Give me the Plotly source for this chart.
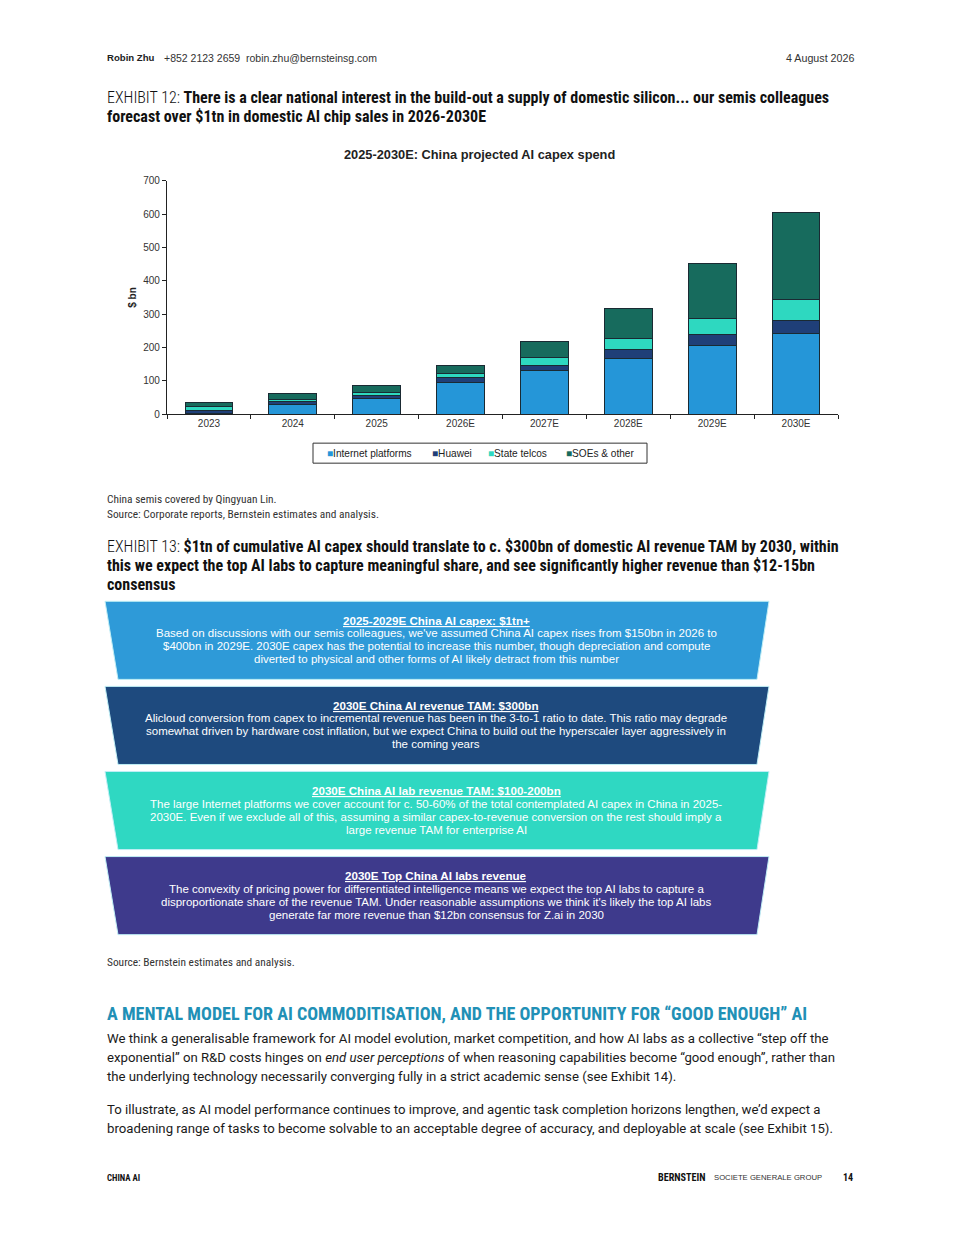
import plotly.graph_objects as go

PAGE_W, PAGE_H = 960, 1242
OFF = 8  # default body margin of the html page
W, H = PAGE_W - 2 * OFF, PAGE_H - 2 * OFF

# ---------------- data ----------------
categories = ["2023", "2024", "2025", "2026E", "2027E", "2028E", "2029E", "2030E"]
internet_platforms = [3, 28, 47, 95, 132, 168, 205, 241]
huawei = [7, 10, 8, 15, 15, 25, 33, 41]
state_telcos = [12, 7, 9, 12, 22, 33, 49, 63]
soes_other = [12, 18, 22, 25, 49, 92, 166, 260]

series_names = ["Internet platforms", "Huawei", "State telcos", "SOEs & other"]
series_values = [internet_platforms, huawei, state_telcos, soes_other]
series_colors = ["#2596d8", "#1f3f78", "#2ed8c0", "#176b5d"]

y_ticks = [0, 100, 200, 300, 400, 500, 600, 700]

# mapping from target page pixel to figure paper coordinates
SX, AX = 1.0, 8.0
SY, AY = 0.990, 13.3


def X(px):
    return ((px - AX) / SX) / W


def Y(py):
    return 1 - ((py - AY) / SY) / H


CH = "Liberation Sans, Arial, sans-serif"
BODY = "Roboto, Liberation Sans, sans-serif"
COND = "Roboto Condensed, Liberation Sans Narrow, DejaVu Sans Condensed, Roboto, sans-serif"

fig = go.Figure()
for name, vals, col in zip(series_names, series_values, series_colors):
    fig.add_trace(go.Bar(
        x=categories, y=vals, name=name,
        marker=dict(color=col, line=dict(color="#1a2a33", width=1)),
    ))

fig.update_layout(
    width=W, height=H,
    margin=dict(l=0, r=0, t=0, b=0),
    paper_bgcolor="white", plot_bgcolor="white",
    barmode="stack", bargap=0.43,
    showlegend=False,
    xaxis=dict(
        domain=[X(167), X(838)], anchor="y",
        showline=True, linecolor="#222", linewidth=1.2,
        ticks="outside", ticklen=4, tickcolor="#222", tickson="boundaries",
        tickfont=dict(family=CH, size=10, color="#333"),
        showgrid=False, zeroline=False,
    ),
    yaxis=dict(
        domain=[Y(413), Y(180)], anchor="x",
        range=[0, 700], tickvals=y_ticks,
        showline=True, linecolor="#222", linewidth=1.2,
        ticks="outside", ticklen=4, tickcolor="#222",
        tickfont=dict(family=CH, size=10, color="#333"),
        showgrid=False, zeroline=False,
        title=dict(text="<b>$ bn</b>", font=dict(family=CH, size=10, color="#222"), standoff=4),
    ),
    font=dict(family=CH),
)

ann = []
shapes = []


def text(x, y, s, size=10, color="#222", family=BODY, xanchor="left", bold=False):
    if bold:
        s = "<b>" + s + "</b>"
    ann.append(dict(x=X(x), y=Y(y), xref="paper", yref="paper", text=s, showarrow=False,
                    xanchor=xanchor, yanchor="middle",
                    font=dict(size=size, color=color, family=family)))


# header
text(105, 57, "<b>Robin Zhu</b>", size=9.6, family=CH)
text(162, 57, "+852 2123 2659  robin.zhu@bernsteinsg.com", size=10.5, family=CH, color="#333")
text(856, 57, "4 August 2026", size=10.7, family=CH, color="#333", xanchor="right")

# exhibit 12 title
TS = 16
text(105, 97, "<span style='font-weight:300'>EXHIBIT 12: </span><b>There is a clear national interest in the build-out a supply of domestic silicon... our semis colleagues</b>",
     size=TS, family=COND, color="#111")
text(105, 116, "<b>forecast over $1tn in domestic AI chip sales in 2026-2030E</b>", size=TS, family=COND, color="#111")

# chart title
text(479, 154, "2025-2030E: China projected AI capex spend", size=12.8, family=CH, bold=True, xanchor="center")

# manual legend box
shapes.append(dict(type="rect", xref="paper", yref="paper", x0=X(313), x1=X(647), y0=Y(462), y1=Y(442),
                   line=dict(color="#333", width=1), fillcolor="white"))
leg_x = [325, 430, 486, 564]
for lx, name, col in zip(leg_x, series_names, series_colors):
    text(lx, 452, "<span style='color:%s'>■</span>%s" % (col, name), size=10.1, family=CH, color="#222")

# sources
text(105, 498, "China semis covered by Qingyuan Lin.", size=11.4, family=COND, color="#333")
text(105, 513, "Source: Corporate reports, Bernstein estimates and analysis.", size=11.4, family=COND, color="#333")

# exhibit 13 title
text(105, 545, "<span style='font-weight:300'>EXHIBIT 13: </span><b>$1tn of cumulative AI capex should translate to c. $300bn of domestic AI revenue TAM by 2030, within</b>",
     size=TS, family=COND, color="#111")
text(105, 564, "<b>this we expect the top AI labs to capture meaningful share, and see significantly higher revenue than $12-15bn</b>",
     size=TS, family=COND, color="#111")
text(105, 583, "<b>consensus</b>", size=TS, family=COND, color="#111")

# funnel boxes
box_colors = ["#2e9ad8", "#1e4a7e", "#2fd8c2", "#3e3a8c"]
box_tops = [600, 685, 770, 855]
box_h = 78
box_titles = [
    "2025-2029E China AI capex: $1tn+",
    "2030E China AI revenue TAM: $300bn",
    "2030E China AI lab revenue TAM: $100-200bn",
    "2030E Top China AI labs revenue",
]
box_lines = [
    ["Based on discussions with our semis colleagues, we've assumed China AI capex rises from $150bn in 2026 to",
     "$400bn in 2029E. 2030E capex has the potential to increase this number, though depreciation and compute",
     "diverted to physical and other forms of AI likely detract from this number"],
    ["Alicloud conversion from capex to incremental revenue has been in the 3-to-1 ratio to date. This ratio may degrade",
     "somewhat driven by hardware cost inflation, but we expect China to build out the hyperscaler layer aggressively in",
     "the coming years"],
    ["The large Internet platforms we cover account for c. 50-60% of the total contemplated AI capex in China in 2025-",
     "2030E. Even if we exclude all of this, assuming a similar capex-to-revenue conversion on the rest should imply a",
     "large revenue TAM for enterprise AI"],
    ["The convexity of pricing power for differentiated intelligence means we expect the top AI labs to capture a",
     "disproportionate share of the revenue TAM. Under reasonable assumptions we think it's likely the top AI labs",
     "generate far more revenue than $12bn consensus for Z.ai in 2030"],
]
for top, col, ttl, lines in zip(box_tops, box_colors, box_titles, box_lines):
    bot = top + box_h
    path = "M {} {} L {} {} L {} {} L {} {} Z".format(X(105), Y(top), X(769), Y(top), X(757), Y(bot), X(118), Y(bot))
    shapes.append(dict(type="path", xref="paper", yref="paper", path=path,
                       fillcolor=col, line=dict(color="#bfeef5", width=1), layer="below"))
    text(436, top + 19, "<b><u>" + ttl + "</u></b>", size=11.6, family=CH, color="white", xanchor="center")
    for i, ln in enumerate(lines):
        text(436, top + 32 + 13 * i, ln, size=11.5, family=CH, color="white", xanchor="center")

text(105, 960, "Source: Bernstein estimates and analysis.", size=11.4, family=COND, color="#333")

# section heading and body
text(105, 1012, "<b>A MENTAL MODEL FOR AI COMMODITISATION, AND THE OPPORTUNITY FOR “GOOD ENOUGH” AI</b>",
     size=18, family=COND, color="#2190b6")
para = [
    (1037, "We think a generalisable framework for AI model evolution, market competition, and how AI labs as a collective “step off the"),
    (1056, "exponential” on R&D costs hinges on <i>end user perceptions</i> of when reasoning capabilities become “good enough”, rather than"),
    (1075, "the underlying technology necessarily converging fully in a strict academic sense (see Exhibit 14)."),
    (1108, "To illustrate, as AI model performance continues to improve, and agentic task completion horizons lengthen, we’d expect a"),
    (1127, "broadening range of tasks to become solvable to an acceptable degree of accuracy, and deployable at scale (see Exhibit 15)."),
]
for yy, s in para:
    text(105, yy, s, size=13.2, family=BODY, color="#1a1a1a")

# footer
text(105, 1176, "<b>CHINA AI</b>", size=8.8, family=COND, color="#111")
text(656, 1176, "<b>BERNSTEIN</b>", size=10.2, family=COND, color="#111")
text(712, 1176, "SOCIETE GENERALE GROUP", size=7.7, family=CH, color="#333")
text(855, 1176, "<b>14</b>", size=10, family=COND, color="#111", xanchor="right")

fig.update_layout(annotations=ann, shapes=shapes)
fig.write_html("out.html")
